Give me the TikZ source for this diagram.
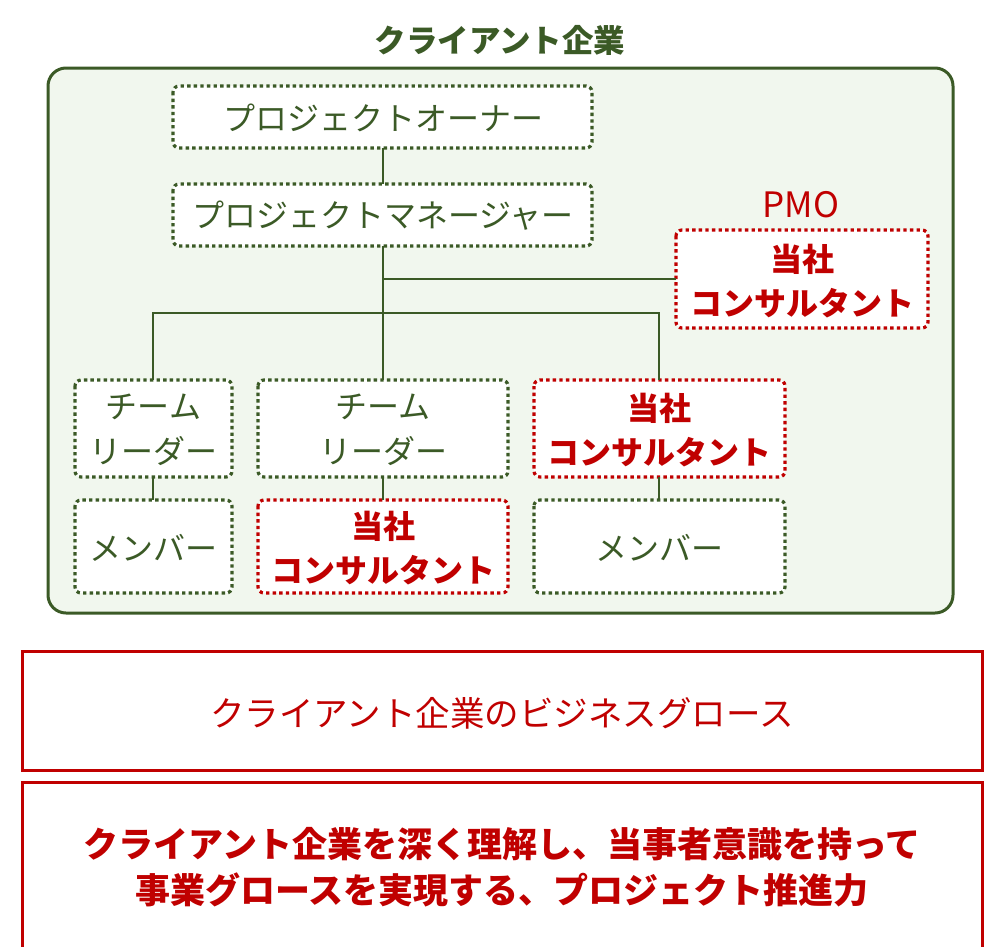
\documentclass[tikz,border=0pt]{standalone}
\usepackage{fontspec}
\setmainfont{Noto Sans CJK JP}
\definecolor{dkgreen}{HTML}{3B5A26}
\definecolor{ltgreen}{HTML}{F1F7EE}
\definecolor{dkred}{HTML}{C00000}
\tikzset{
  gbox/.style={draw=dkgreen, fill=white, line width=3.2pt, dash pattern=on 3.4pt off 3.2pt, rounded corners=6pt},
  rbox/.style={draw=dkred, fill=white, line width=3.2pt, dash pattern=on 3.4pt off 3.2pt, rounded corners=6pt},
  gtxt/.style={text=dkgreen, align=center, font=\fontsize{32}{45}\selectfont},
  rtxt/.style={text=dkred, align=center, font=\fontsize{32}{44}\selectfont\bfseries},
  conn/.style={draw=dkgreen, line width=2pt},
  bigbox/.style={draw=dkred, line width=3pt}
}
\begin{document}
\begin{tikzpicture}[x=1pt,y=-1pt]
\useasboundingbox (0,0) rectangle (992,946);
\clip (0,0) rectangle (992,946);
% title
\node[text=dkgreen, font=\fontsize{31.5}{36}\selectfont\bfseries] (title) at (500,40) {クライアント企業};
% outer box
\draw[draw=dkgreen, fill=ltgreen, line width=3pt, rounded corners=18pt] (48,68) rectangle (953,613);
% boxes
\draw[gbox] (173,86) rectangle (592,148);
\node[gtxt] (owner) at (383,118) {プロジェクトオーナー};
\coordinate (ownerB) at (383,148);
\draw[gbox] (173,184) rectangle (592,246);
\node[gtxt] (mgr) at (383,216) {プロジェクトマネージャー};
\coordinate (mgrT) at (383,184);
\coordinate (mgrB) at (383,246);
% PMO
\node[text=dkred, font=\fontsize{35}{40}\selectfont] (pmolabel) at (801,205) {PMO};
\draw[rbox] (676,230) rectangle (928,328);
\node[rtxt] (pmo) at (802,281) {当社\\コンサルタント};
\coordinate (pmoL) at (676,279);
% row 1
\draw[gbox] (75,380) rectangle (232,477);
\node[gtxt] (tlA) at (153.5,430) {チーム\\リーダー};
\draw[gbox] (258,380) rectangle (508,477);
\node[gtxt] (tlB) at (383,430) {チーム\\リーダー};
\draw[rbox] (534,380) rectangle (785,477);
\node[rtxt] (conC) at (659.5,430) {当社\\コンサルタント};
% row 2
\draw[gbox] (75,500) rectangle (232,593);
\node[gtxt] (memD) at (153.5,548) {メンバー};
\draw[rbox] (258,500) rectangle (508,593);
\node[rtxt] (conE) at (383,548) {当社\\コンサルタント};
\draw[gbox] (534,500) rectangle (785,593);
\node[gtxt] (memF) at (659.5,548) {メンバー};
% connector coordinates
\coordinate (jn) at (383,313);
\coordinate (jp) at (383,279);
\coordinate (aT) at (153,380);
\coordinate (bT) at (383,380);
\coordinate (cT) at (659,380);
\coordinate (aB) at (153,477);
\coordinate (dT) at (153,500);
\coordinate (bB) at (383,477);
\coordinate (eT) at (383,500);
\coordinate (cB) at (659,477);
\coordinate (fT) at (659,500);
% connectors
\draw[conn] (ownerB) -- (mgrT);
\draw[conn] (mgrB) -- (bT);
\draw[conn] (jp) -- (pmoL);
\draw[conn] (aT) |- (jn) -| (cT);
\draw[conn] (aB) -- (dT);
\draw[conn] (bB) -- (eT);
\draw[conn] (cB) -- (fT);
% bottom boxes
\draw[bigbox] (22,651) rectangle (982,770);
\node[text=dkred, font=\fontsize{34.5}{40}\selectfont] (growth) at (502,713) {クライアント企業のビジネスグロース};
\draw[bigbox] (22,782) rectangle (982,980);
\node[text=dkred, align=center, font=\fontsize{35}{46}\selectfont\bfseries] (power) at (502,867) {クライアント企業を深く理解し、当事者意識を持って\\事業グロースを実現する、プロジェクト推進力};
\end{tikzpicture}
\end{document}
